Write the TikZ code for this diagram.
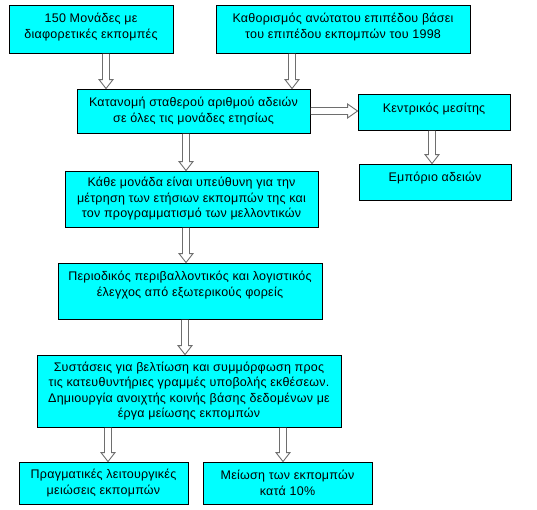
\documentclass[tikz,border=0pt]{standalone}
\usepackage{fontspec}
\setmainfont{Liberation Sans}[LetterSpace=2]
\usetikzlibrary{calc}
\definecolor{boxcyan}{RGB}{0,255,255}
\definecolor{arrgray}{RGB}{110,110,110}
\tikzset{
  box/.style={draw=black, line width=0.9pt, fill=boxcyan, inner sep=0pt},
  txt/.style={align=center, inner sep=0pt, font=\fontsize{12.5}{15.5}\selectfont},
  blockarr/.style={draw=arrgray, fill=white, line width=0.9pt, line join=miter}
}
\newcommand\varr[3]{%
  \filldraw[blockarr] let \p1=([xshift=#3]#1.south), \p2=(#2.north) in
    (\x1-3.5pt,\y1-0.5pt) -- (\x1-3.5pt,\y2+9pt) -- (\x1-7pt,\y2+9pt) -- (\x1,\y2)
    -- (\x1+7pt,\y2+9pt) -- (\x1+3.5pt,\y2+9pt) -- (\x1+3.5pt,\y1-0.5pt);}
\newcommand\harr[2]{%
  \filldraw[blockarr] let \p1=(#1.east), \p2=(#2.west) in
    (\x1+0.5pt,\y1+3.5pt) -- (\x2-10pt,\y1+3.5pt) -- (\x2-10pt,\y1+7pt) -- (\x2,\y1)
    -- (\x2-10pt,\y1-7pt) -- (\x2-10pt,\y1-3.5pt) -- (\x1+0.5pt,\y1-3.5pt);}
\begin{document}
\begin{tikzpicture}[x=1pt,y=-1pt]
\useasboundingbox[fill=white] (0,0) rectangle (537,509);
% boxes
\node[box, minimum width=164pt, minimum height=48pt] (b1) at (91,29) {};
\node[box, minimum width=254pt, minimum height=48pt] (b2) at (343,29) {};
\node[box, minimum width=233pt, minimum height=44pt] (b3) at (193.5,111) {};
\node[box, minimum width=152pt, minimum height=36pt] (b4) at (434,112) {};
\node[box, minimum width=152pt, minimum height=36pt] (b5) at (435,182) {};
\node[box, minimum width=253pt, minimum height=56pt] (b6) at (191.5,199) {};
\node[box, minimum width=264pt, minimum height=56pt] (b7) at (190,291) {};
\node[box, minimum width=304pt, minimum height=72pt] (b8) at (189,391) {};
\node[box, minimum width=169pt, minimum height=42pt] (b9) at (103.5,483) {};
\node[box, minimum width=169pt, minimum height=42pt] (b10) at (287.5,483) {};
% texts
\node[txt] (t1) at ([yshift=2pt]b1.center) {150 Μονάδες με\\διαφορετικές εκπομπές};
\node[txt] (t2) at ([yshift=2pt]b2.center) {Καθορισμός ανώτατου επιπέδου βάσει\\του επιπέδου εκπομπών του 1998};
\node[txt] (t3) at (b3.center) {Κατανομή σταθερού αριθμού αδειών\\σε όλες τις μονάδες ετησίως};
\node[txt] (t4) at ([yshift=3pt]b4.center) {Κεντρικός μεσίτης};
\node[txt] (t5) at ([yshift=4pt]b5.center) {Εμπόριο αδειών};
\node[txt] (t6) at (b6.center) {Κάθε μονάδα είναι υπεύθυνη για την\\μέτρηση των ετήσιων εκπομπών της και\\τον προγραμματισμό των μελλοντικών};
\node[txt] (t7) at ([yshift=6pt]b7.center) {Περιοδικός περιβαλλοντικός και λογιστικός\\έλεγχος από εξωτερικούς φορείς};
\node[txt] (t8) at (b8.center) {Συστάσεις για βελτίωση και συμμόρφωση προς\\τις κατευθυντήριες γραμμές υποβολής εκθέσεων.\\Δημιουργία ανοιχτής κοινής βάσης δεδομένων με\\έργα μείωσης εκπομπών};
\node[txt] (t9) at (b9.center) {Πραγματικές λειτουργικές\\μειώσεις εκπομπών};
\node[txt] (t10) at (b10.center) {Μείωση των εκπομπών\\κατά 10\%};
% arrows
\varr{b1}{b3}{15pt}
\varr{b2}{b3}{-51pt}
\harr{b3}{b4}
\varr{b3}{b6}{-7.5pt}
\varr{b4}{b5}{-2pt}
\varr{b6}{b7}{-5.5pt}
\varr{b7}{b8}{-5pt}
\varr{b8}{b9}{-81pt}
\varr{b8}{b10}{94pt}
\end{tikzpicture}
\end{document}
